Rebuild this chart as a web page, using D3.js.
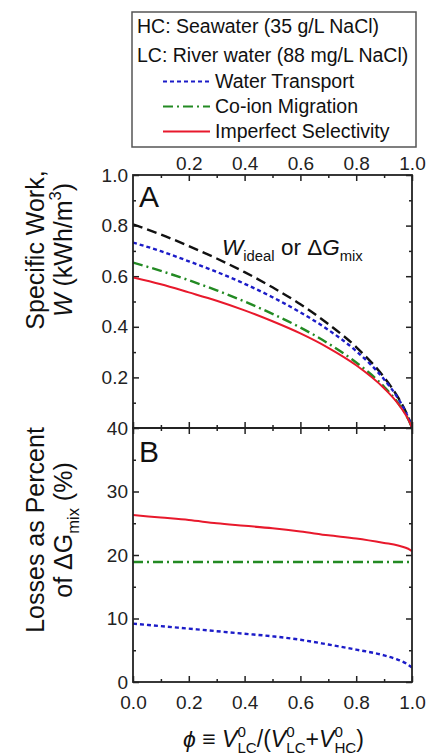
<!DOCTYPE html>
<html>
<head>
<meta charset="utf-8">
<script src="https://cdn.jsdelivr.net/npm/d3@7"></script>
<style>
  html, body { margin: 0; padding: 0; background: #fff; }
  svg { display: block; font-family: "Liberation Sans", Arial, sans-serif; }
</style>
</head>
<body>
<svg id="chart" width="426" height="755"></svg>
<script>
// Volume fraction of the low-concentration feed
const phi = [0, 0.1, 0.2, 0.3, 0.4, 0.5, 0.6, 0.7, 0.8, 0.9, 0.95, 0.98, 0.99, 1.0];

// Panel A: specific work, kWh/m3
const workIdeal     = [0.805, 0.765, 0.719, 0.670, 0.616, 0.556, 0.489, 0.411, 0.320, 0.200, 0.121, 0.059, 0.033, 0];
const workWater     = [0.733, 0.699, 0.659, 0.617, 0.570, 0.517, 0.457, 0.388, 0.304, 0.192, 0.117, 0.057, 0.032, 0];
const workCoion     = [0.654, 0.621, 0.584, 0.544, 0.500, 0.451, 0.397, 0.334, 0.259, 0.163, 0.099, 0.048, 0.027, 0];
const workImperfect = [0.595, 0.568, 0.536, 0.503, 0.465, 0.422, 0.374, 0.317, 0.248, 0.157, 0.096, 0.047, 0.026, 0];

// Panel B: losses as percent of the free energy of mixing
const lossWater     = [9.2, 8.8, 8.4, 8.0, 7.6, 7.2, 6.65, 5.9, 5.1, 4.2, 3.5, 2.9, 2.6, 2.3];
const lossCoion     = [18.9, 18.9, 18.9, 18.9, 18.9, 18.9, 18.9, 18.9, 18.9, 18.9, 18.9, 18.9, 18.9, 18.9];
const lossImperfect = [26.3, 25.9, 25.5, 25.0, 24.6, 24.2, 23.7, 23.1, 22.6, 21.9, 21.5, 21.1, 20.9, 20.6];

// Tick values
const xMajor = [0, 0.2, 0.4, 0.6, 0.8, 1.0];
const xMinor = [0.1, 0.3, 0.5, 0.7, 0.9];
const wMajor = [0.2, 0.4, 0.6, 0.8, 1.0];
const wMinor = [0.1, 0.3, 0.5, 0.7, 0.9];
const lossMajor = [0, 10, 20, 30, 40];
const lossMinor = [5, 15, 25, 35];

// Legend entries
const legendNotes = ["HC: Seawater (35 g/L NaCl)", "LC: River water (88 mg/L NaCl)"];
const legendNames = ["Water Transport", "Co-ion Migration", "Imperfect Selectivity"];

const COL = { ideal: "#111111", water: "#1c1cc8", coion: "#238a23", imperfect: "#e8192c" };
const DASH = { ideal: "10,5", water: "4,3", coion: "10,4,2,4", imperfect: null };

const svg = d3.select("#chart");

const left = 133, right = 412;
const topA = 175, botA = 428, botB = 682;

const x = d3.scaleLinear().domain([0, 1]).range([left, right]);
const yA = d3.scaleLinear().domain([0, 1]).range([botA, topA]);
const yB = d3.scaleLinear().domain([0, 40]).range([botB, botA]);

// Rich text helper: segments with italic / sup / sub, sub can stack under preceding sup
function richText(textSel, segs, base) {
  let off = 0, lastLen = 0;
  segs.forEach(s => {
    let target = 0, size = base;
    if (s.sup) { target = -0.42 * base; size = 0.66 * base; }
    if (s.sub) { target = 0.28 * base; size = 0.66 * base; }
    const ts = textSel.append("tspan")
      .attr("font-size", size)
      .attr("dy", target - off)
      .text(s.t);
    if (s.italic) ts.attr("font-style", "italic");
    if (s.stack) ts.attr("dx", -lastLen);
    off = target;
    lastLen = ts.node().getComputedTextLength();
  });
  return textSel;
}

// ---------- Legend ----------
const leg = svg.append("g");
leg.append("rect").attr("x", 132).attr("y", 12).attr("width", 284).attr("height", 135)
  .attr("fill", "#fff").attr("stroke", "#555").attr("stroke-width", 1.5);
legendNotes.forEach((t, i) => {
  leg.append("text").attr("x", 137).attr("y", 33 + i * 28.5)
    .attr("font-size", 19.5).attr("fill", "#111").text(t);
});
const legKeys = ["water", "coion", "imperfect"];
legendNames.forEach((t, i) => {
  const by = 88 + i * 25;
  const k = legKeys[i];
  leg.append("line").attr("x1", 163).attr("x2", 210).attr("y1", by - 6.5).attr("y2", by - 6.5)
    .attr("stroke", COL[k]).attr("stroke-width", 2.2)
    .attr("stroke-dasharray", DASH[k]);
  leg.append("text").attr("x", 215).attr("y", by)
    .attr("font-size", 19.5).attr("fill", "#111").text(t);
});

// ---------- Axes helpers ----------
function styleAxis(g) {
  g.select(".domain").remove();
  g.selectAll(".tick line").attr("stroke", "#222").attr("stroke-width", 1.5);
  g.selectAll(".tick text").attr("font-size", 19).attr("fill", "#222")
    .attr("font-family", "Liberation Sans, Arial, sans-serif");
}
function addAxis(axis, tx, ty) {
  svg.append("g").attr("transform", `translate(${tx},${ty})`).call(axis).call(styleAxis);
}
const fmt1 = d3.format(".1f");

// Panel A axes
addAxis(d3.axisLeft(yA).tickValues(wMajor).tickSize(-6).tickPadding(5).tickFormat(fmt1), left, 0);
addAxis(d3.axisLeft(yA).tickValues(wMinor).tickSize(-3).tickFormat(""), left, 0);
addAxis(d3.axisRight(yA).tickValues(wMajor).tickSize(-6).tickFormat(""), right, 0);
addAxis(d3.axisRight(yA).tickValues(wMinor).tickSize(-3).tickFormat(""), right, 0);
addAxis(d3.axisTop(x).tickValues(xMajor.slice(1)).tickSize(-6).tickPadding(5).tickFormat(fmt1), 0, topA);
addAxis(d3.axisTop(x).tickValues(xMinor).tickSize(-3).tickFormat(""), 0, topA);
addAxis(d3.axisBottom(x).tickValues(xMajor).tickSize(-6).tickFormat(""), 0, botA);
addAxis(d3.axisBottom(x).tickValues(xMinor).tickSize(-3).tickFormat(""), 0, botA);

// Panel B axes
addAxis(d3.axisLeft(yB).tickValues(lossMajor).tickSize(-6).tickPadding(5).tickFormat(d3.format("d")), left, 0);
addAxis(d3.axisLeft(yB).tickValues(lossMinor).tickSize(-3).tickFormat(""), left, 0);
addAxis(d3.axisRight(yB).tickValues(lossMajor).tickSize(-6).tickFormat(""), right, 0);
addAxis(d3.axisRight(yB).tickValues(lossMinor).tickSize(-3).tickFormat(""), right, 0);
addAxis(d3.axisTop(x).tickValues(xMajor).tickSize(-6).tickFormat(""), 0, botA);
addAxis(d3.axisTop(x).tickValues(xMinor).tickSize(-3).tickFormat(""), 0, botA);
addAxis(d3.axisBottom(x).tickValues(xMajor).tickSize(-6).tickPadding(14).tickFormat(fmt1), 0, botB);
addAxis(d3.axisBottom(x).tickValues(xMinor).tickSize(-3).tickFormat(""), 0, botB);

// ---------- Curves ----------
const defs = svg.append("defs");
defs.append("clipPath").attr("id", "clipA").append("rect")
  .attr("x", left).attr("y", topA).attr("width", right - left).attr("height", botA - topA + 1);
defs.append("clipPath").attr("id", "clipB").append("rect")
  .attr("x", left).attr("y", botA).attr("width", right - left).attr("height", botB - botA);

function drawSeries(clip, yScale, vals, key) {
  const line = d3.line()
    .x((d, i) => x(phi[i]))
    .y(d => yScale(d))
    .curve(d3.curveMonotoneX);
  svg.append("path").attr("clip-path", `url(#${clip})`)
    .attr("d", line(vals))
    .attr("fill", "none")
    .attr("stroke", COL[key])
    .attr("stroke-width", key === "imperfect" ? 2 : 2.4)
    .attr("stroke-dasharray", DASH[key]);
}
drawSeries("clipA", yA, workIdeal, "ideal");
drawSeries("clipA", yA, workCoion, "coion");
drawSeries("clipA", yA, workWater, "water");
drawSeries("clipA", yA, workImperfect, "imperfect");

drawSeries("clipB", yB, lossCoion, "coion");
drawSeries("clipB", yB, lossWater, "water");
drawSeries("clipB", yB, lossImperfect, "imperfect");

// ---------- Frames ----------
[[topA, botA], [botA, botB]].forEach(([t, b]) => {
  svg.append("rect").attr("x", left).attr("y", t).attr("width", right - left).attr("height", b - t)
    .attr("fill", "none").attr("stroke", "#222").attr("stroke-width", 1.8);
});

// ---------- Panel labels ----------
svg.append("text").attr("x", 139).attr("y", 207).attr("font-size", 30).attr("fill", "#111").text("A");
svg.append("text").attr("x", 139).attr("y", 462).attr("font-size", 30).attr("fill", "#111").text("B");

// Annotation on the ideal curve
richText(svg.append("text").attr("x", 222).attr("y", 255).attr("fill", "#111"), [
  { t: "W", italic: true },
  { t: "ideal", sub: true },
  { t: " or \u0394" },
  { t: "G", italic: true },
  { t: "mix", sub: true }
], 22.5);

// ---------- Axis titles ----------
function yTitle(cx, cy, lines, size) {
  const g = svg.append("g").attr("transform", `translate(${cx},${cy}) rotate(-90)`);
  lines.forEach((segs, i) => {
    richText(g.append("text").attr("x", 0).attr("y", i * size * 1.1)
      .attr("text-anchor", "middle").attr("fill", "#111"), segs, size);
  });
}
yTitle(44, 250, [
  [{ t: "Specific Work," }],
  [{ t: "W", italic: true }, { t: " (kWh/m" }, { t: "3", sup: true }, { t: ")" }]
], 25);
yTitle(44, 530, [
  [{ t: "Losses as Percent" }],
  [{ t: "of \u0394G" }, { t: "mix", sub: true }, { t: " (%)" }]
], 25);

richText(svg.append("text").attr("x", (left + right) / 2 + 1).attr("y", 747)
  .attr("text-anchor", "middle").attr("fill", "#111"), [
  { t: "\u03D5", italic: true },
  { t: " \u2261 " },
  { t: "V", italic: true },
  { t: "0", sup: true },
  { t: "LC", sub: true, stack: true },
  { t: "/(" },
  { t: "V", italic: true },
  { t: "0", sup: true },
  { t: "LC", sub: true, stack: true },
  { t: "+" },
  { t: "V", italic: true },
  { t: "0", sup: true },
  { t: "HC", sub: true, stack: true },
  { t: ")" }
], 23);
</script>
</body>
</html>
